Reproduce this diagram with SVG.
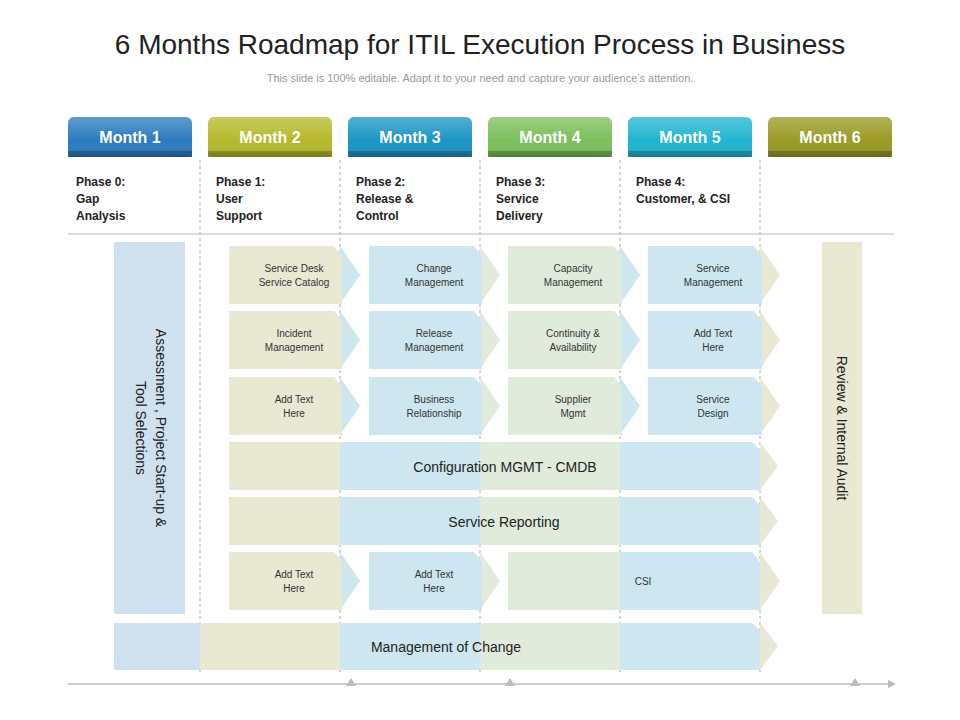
<svg xmlns="http://www.w3.org/2000/svg" width="960" height="720" viewBox="0 0 960 720">
<defs>
<linearGradient id="gl" x1="0" y1="0" x2="0" y2="1"><stop offset="0" stop-color="#fff" stop-opacity="0.25"/><stop offset="0.6" stop-color="#fff" stop-opacity="0"/><stop offset="1" stop-color="#000" stop-opacity="0.15"/></linearGradient>
</defs>
<style>
text{font-family:"Liberation Sans",Arial,sans-serif;}
.hd{font-size:16px;font-weight:bold;fill:#fff;text-anchor:middle;}
.ph{font-size:12px;font-weight:bold;fill:#222;}
.sm{font-size:10px;fill:#333;text-anchor:middle;}
.lg{font-size:14px;fill:#222;text-anchor:middle;}
.dv{stroke:#aaa;stroke-dasharray:3 3;stroke-width:1;}
.be{fill:#e8e8d3}.bl{fill:#cde6ef}.gr{fill:#e0ebdc}.lb{fill:#cfe0ee}
</style>
<rect width="960" height="720" fill="#fff"/>
<text x="480" y="54" font-size="28" fill="#222" text-anchor="middle">6 Months Roadmap for ITIL Execution Process in Business</text>
<text x="480" y="82" font-size="11" fill="#999" text-anchor="middle">This slide is 100% editable. Adapt it to your need and capture your audience’s attention.</text>

<g id="dividers">
<line class="dv" x1="200" y1="160" x2="200" y2="672"/>
<line class="dv" x1="340" y1="160" x2="340" y2="672"/>
<line class="dv" x1="480" y1="160" x2="480" y2="672"/>
<line class="dv" x1="620" y1="160" x2="620" y2="672"/>
<line class="dv" x1="760" y1="160" x2="760" y2="672"/>
<line x1="68" y1="234" x2="894" y2="234" stroke="#bbb"/>
</g>

<g id="headers">
<g id="m1"><rect x="68" y="117" width="124" height="40" rx="6" fill="#2a7bbf"/><rect x="68" y="151" width="124" height="6" fill="#1f5f95"/><rect x="68" y="117" width="124" height="40" rx="6" fill="url(#gl)"/><text class="hd" x="130" y="143">Month 1</text></g>
<g id="m2"><rect x="208" y="117" width="124" height="40" rx="6" fill="#b5b92a"/><rect x="208" y="151" width="124" height="6" fill="#8c8f1e"/><rect x="208" y="117" width="124" height="40" rx="6" fill="url(#gl)"/><text class="hd" x="270" y="143">Month 2</text></g>
<g id="m3"><rect x="348" y="117" width="124" height="40" rx="6" fill="#1b95c5"/><rect x="348" y="151" width="124" height="6" fill="#14729a"/><rect x="348" y="117" width="124" height="40" rx="6" fill="url(#gl)"/><text class="hd" x="410" y="143">Month 3</text></g>
<g id="m4"><rect x="488" y="117" width="124" height="40" rx="6" fill="#7bbf5a"/><rect x="488" y="151" width="124" height="6" fill="#5e9644"/><rect x="488" y="117" width="124" height="40" rx="6" fill="url(#gl)"/><text class="hd" x="550" y="143">Month 4</text></g>
<g id="m5"><rect x="628" y="117" width="124" height="40" rx="6" fill="#1fb5cf"/><rect x="628" y="151" width="124" height="6" fill="#168ea3"/><rect x="628" y="117" width="124" height="40" rx="6" fill="url(#gl)"/><text class="hd" x="690" y="143">Month 5</text></g>
<g id="m6"><rect x="768" y="117" width="124" height="40" rx="6" fill="#9a9a24"/><rect x="768" y="151" width="124" height="6" fill="#76761a"/><rect x="768" y="117" width="124" height="40" rx="6" fill="url(#gl)"/><text class="hd" x="830" y="143">Month 6</text></g>
</g>

<g id="phases">
<text class="ph" x="76" y="186">Phase 0:<tspan x="76" dy="17">Gap</tspan><tspan x="76" dy="17">Analysis</tspan></text>
<text class="ph" x="216" y="186">Phase 1:<tspan x="216" dy="17">User</tspan><tspan x="216" dy="17">Support</tspan></text>
<text class="ph" x="356" y="186">Phase 2:<tspan x="356" dy="17">Release &amp;</tspan><tspan x="356" dy="17">Control</tspan></text>
<text class="ph" x="496" y="186">Phase 3:<tspan x="496" dy="17">Service</tspan><tspan x="496" dy="17">Delivery</tspan></text>
<text class="ph" x="636" y="186">Phase 4:<tspan x="636" dy="17">Customer, &amp; CSI</tspan></text>
</g>

<g id="left-bar"><rect class="lb" x="114" y="242" width="71" height="372"/>
<text class="lg" font-size="15" transform="translate(150,428) rotate(90)"><tspan x="0" y="-6">Assessment , Project Start-up &amp;</tspan><tspan x="0" y="14">Tool Selections</tspan></text></g>
<g id="right-bar"><rect class="be" x="822" y="242" width="40" height="372"/>
<text class="lg" font-size="15" transform="translate(842,428) rotate(90)" y="5">Review &amp; Internal Audit</text></g>

<!-- small arrow boxes: row tops 246,311,377 height 58 -->
<g id="row1">
<g id="n-sd"><polygon class="bl" points="340,246 360,275 340,304"/><path class="be" d="M229,246 H334 L342,256 V304 H229 Z"/><text class="sm" x="294" y="272">Service Desk<tspan x="294" dy="14">Service Catalog</tspan></text></g>
<g id="n-cm"><polygon class="gr" points="480,246 500,275 480,304"/><path class="bl" d="M369,246 H474 L482,256 V304 H369 Z"/><text class="sm" x="434" y="272">Change<tspan x="434" dy="14">Management</tspan></text></g>
<g id="n-cap"><polygon class="bl" points="620,246 640,275 620,304"/><path class="gr" d="M508,246 H614 L622,256 V304 H508 Z"/><text class="sm" x="573" y="272">Capacity<tspan x="573" dy="14">Management</tspan></text></g>
<g id="n-sm"><polygon class="be" points="760,246 780,275 760,304"/><path class="bl" d="M648,246 H754 L762,256 V304 H648 Z"/><text class="sm" x="713" y="272">Service<tspan x="713" dy="14">Management</tspan></text></g>
</g>
<g id="row2">
<g id="n-im"><polygon class="bl" points="340,311 360,340 340,369"/><path class="be" d="M229,311 H334 L342,321 V369 H229 Z"/><text class="sm" x="294" y="337">Incident<tspan x="294" dy="14">Management</tspan></text></g>
<g id="n-rm"><polygon class="gr" points="480,311 500,340 480,369"/><path class="bl" d="M369,311 H474 L482,321 V369 H369 Z"/><text class="sm" x="434" y="337">Release<tspan x="434" dy="14">Management</tspan></text></g>
<g id="n-ca"><polygon class="bl" points="620,311 640,340 620,369"/><path class="gr" d="M508,311 H614 L622,321 V369 H508 Z"/><text class="sm" x="573" y="337">Continuity &amp;<tspan x="573" dy="14">Availability</tspan></text></g>
<g id="n-at1"><polygon class="be" points="760,311 780,340 760,369"/><path class="bl" d="M648,311 H754 L762,321 V369 H648 Z"/><text class="sm" x="713" y="337">Add Text<tspan x="713" dy="14">Here</tspan></text></g>
</g>
<g id="row3">
<g id="n-at2"><polygon class="bl" points="340,377 360,406 340,435"/><path class="be" d="M229,377 H334 L342,387 V435 H229 Z"/><text class="sm" x="294" y="403">Add Text<tspan x="294" dy="14">Here</tspan></text></g>
<g id="n-br"><polygon class="gr" points="480,377 500,406 480,435"/><path class="bl" d="M369,377 H474 L482,387 V435 H369 Z"/><text class="sm" x="434" y="403">Business<tspan x="434" dy="14">Relationship</tspan></text></g>
<g id="n-sup"><polygon class="bl" points="620,377 640,406 620,435"/><path class="gr" d="M508,377 H614 L622,387 V435 H508 Z"/><text class="sm" x="573" y="403">Supplier<tspan x="573" dy="14">Mgmt</tspan></text></g>
<g id="n-sdes"><polygon class="be" points="760,377 780,406 760,435"/><path class="bl" d="M648,377 H754 L762,387 V435 H648 Z"/><text class="sm" x="713" y="403">Service<tspan x="713" dy="14">Design</tspan></text></g>
</g>

<g id="n-cmdb"><rect class="be" x="229" y="442" width="111" height="48"/><rect class="bl" x="340" y="442" width="140" height="48"/><rect class="gr" x="480" y="442" width="140" height="48"/><path class="bl" d="M620,442 H752 L760,450 V490 H620 Z"/><polygon class="be" points="760,442 778,466 760,490"/><text class="lg" x="505" y="472">Configuration MGMT - CMDB</text></g>
<g id="n-sr"><rect class="be" x="229" y="497" width="111" height="48"/><rect class="bl" x="340" y="497" width="140" height="48"/><rect class="gr" x="480" y="497" width="140" height="48"/><path class="bl" d="M620,497 H752 L760,505 V545 H620 Z"/><polygon class="be" points="760,497 778,521 760,545"/><text class="lg" x="504" y="527">Service Reporting</text></g>
<g id="row6">
<g id="n-at3"><polygon class="bl" points="340,552 360,581 340,610"/><path class="be" d="M229,552 H334 L342,562 V610 H229 Z"/><text class="sm" x="294" y="578">Add Text<tspan x="294" dy="14">Here</tspan></text></g>
<g id="n-at4"><polygon class="gr" points="480,552 500,581 480,610"/><path class="bl" d="M369,552 H474 L482,562 V610 H369 Z"/><text class="sm" x="434" y="578">Add Text<tspan x="434" dy="14">Here</tspan></text></g>
<g id="n-csi"><rect class="gr" x="508" y="552" width="112" height="58"/><path class="bl" d="M620,552 H752 L760,562 V610 H620 Z"/><polygon class="be" points="760,552 780,581 760,610"/><text class="sm" x="643" y="585">CSI</text></g>
</g>
<g id="n-moc"><rect class="lb" x="114" y="623" width="86" height="47"/><rect class="be" x="200" y="623" width="140" height="47"/><rect class="bl" x="340" y="623" width="140" height="47"/><rect class="gr" x="480" y="623" width="140" height="47"/><path class="bl" d="M620,623 H752 L760,631 V670 H620 Z"/><polygon class="be" points="760,623 778,646 760,670"/><text class="lg" x="446" y="652">Management of Change</text></g>

<g id="connectors">
<line x1="68" y1="684" x2="888" y2="684" stroke="#bbb" stroke-width="1.5"/>
<polygon points="888,680 896,684 888,688" fill="#bbb"/>
<polygon points="346,686 351,678 356,686" fill="#bbb"/>
<polygon points="505,686 510,678 515,686" fill="#bbb"/>
<polygon points="850,686 855,678 860,686" fill="#bbb"/>
</g>
</svg>
